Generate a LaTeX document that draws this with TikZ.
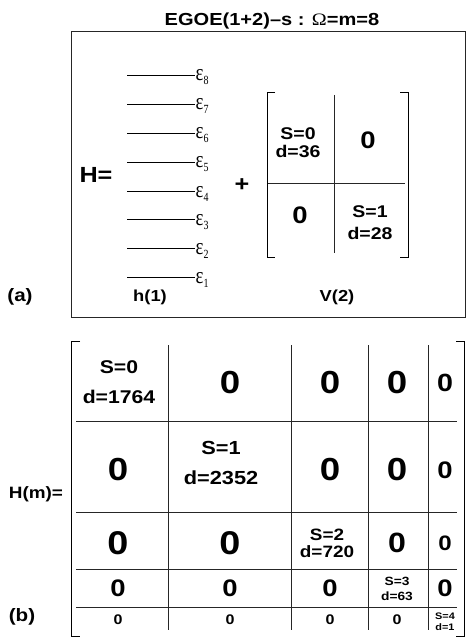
\documentclass[tikz,border=0pt]{standalone}
\usepackage{fontspec}
\setmainfont{Liberation Sans}
\newfontfamily\serif{Liberation Serif}
\newcommand\epslab[1]{ε\raisebox{-4bp}{\fontsize{12.5}{12}\selectfont #1}}

\begin{document}
\begin{tikzpicture}%
        [x=1bp, y=-1bp,
        lbl/.style 2 args={inner sep=0pt, xscale=1.15, align=center,
            font=\bfseries\fontsize{#1}{#2}\selectfont},
        zero/.style={lbl={#1}{#1}},
        eps/.style={anchor=base west, inner sep=0.5pt, yshift=-6bp, xscale=0.8,
            font=\serif\fontsize{23.5}{23.5}\selectfont},
        lev/.style={line width=0.8bp},
        grid/.style={line width=0.8bp, color=black!85},
        brk/.style={line width=0.8bp}]
    %
    \useasboundingbox (0,0) rectangle (467,639);
    %
    %% Title
    \node[lbl={17.5}{20}] (title) at (272,21)
        {EGOE(1+2)--s : {\serif\mdseries Ω}=m=8};
    %%
    %% Panel (a)
    %%
    \draw[grid] (71,31) rectangle (465,317);
    \node[lbl={18}{18}] (pa) at (20,297) {(a)};
    \node[lbl={22}{22}] (H) at (96,175) {H=};
    \node[lbl={22}{22}] (plus) at (242,185) {+};
    %% single particle levels
    \draw[lev] (127,75) -- (195,75) node[eps] (e8) {\epslab{8}};
    \draw[lev] (127,104) -- (195,104) node[eps] (e7) {\epslab{7}};
    \draw[lev] (127,133) -- (195,133) node[eps] (e6) {\epslab{6}};
    \draw[lev] (127,162) -- (195,162) node[eps] (e5) {\epslab{5}};
    \draw[lev] (127,191) -- (195,191) node[eps] (e4) {\epslab{4}};
    \draw[lev] (127,219) -- (195,219) node[eps] (e3) {\epslab{3}};
    \draw[lev] (127,248) -- (195,248) node[eps] (e2) {\epslab{2}};
    \draw[lev] (127,277) -- (195,277) node[eps] (e1) {\epslab{1}};
    \node[lbl={16}{16}] (h1) at (150,297) {h(1)};
    %% two-body matrix
    \draw[brk] (275,92) -- (267,92) -- (267,257) -- (275,257);
    \draw[brk] (400,92) -- (408,92) -- (408,257) -- (400,257);
    \draw[grid] (334,95) -- (334,253);
    \draw[grid] (268,183) -- (405,183);
    \node[lbl={17}{18}] (v00) at (298,143) {S=0\\d=36};
    \node[zero=24] (v01) at (368,140) {0};
    \node[zero=24] (v10) at (300,215) {0};
    \node[lbl={17}{22}] (v11) at (370,223) {S=1\\d=28};
    \node[lbl={16}{16}] (V2) at (337,297) {V(2)};
    %%
    %% Panel (b)
    %%
    \node[lbl={18}{18}] (pb) at (22,617) {(b)};
    \node[lbl={16.5}{16.5}] (Hm) at (36,494) {H(m)=};
    \draw[brk] (80,341) -- (71,341) -- (71,636) -- (80,636);
    \draw[brk] (456,341) -- (464,341) -- (464,636) -- (456,636);
    %% block borders
    \draw[grid] (168,345) -- (168,630);
    \draw[grid] (291,345) -- (291,630);
    \draw[grid] (368,345) -- (368,630);
    \draw[grid] (428,345) -- (428,630);
    \draw[grid] (76,421) -- (457,421);
    \draw[grid] (76,512) -- (457,512);
    \draw[grid] (76,569) -- (457,569);
    \draw[grid] (76,607) -- (457,607);
    %% row S=0
    \node[lbl={18.5}{30}] (b11) at (119,382) {S=0\\d=1764};
    \node[zero=32] (b12) at (230,383) {0};
    \node[zero=32] (b13) at (330,383) {0};
    \node[zero=32] (b14) at (397,383) {0};
    \node[zero=25] (b15) at (445,383) {0};
    %% row S=1
    \node[zero=32] (b21) at (118,470) {0};
    \node[lbl={19}{31}] (b22) at (221,463) {S=1\\d=2352};
    \node[zero=32] (b23) at (330,470) {0};
    \node[zero=32] (b24) at (397,470) {0};
    \node[zero=24] (b25) at (445,470) {0};
    %% row S=2
    \node[zero=33] (b31) at (118,543) {0};
    \node[zero=33] (b32) at (230,543) {0};
    \node[lbl={16.5}{17}] (b33) at (327,543) {S=2\\d=720};
    \node[zero=28] (b34) at (397,543) {0};
    \node[zero=21] (b35) at (445,543) {0};
    %% row S=3
    \node[zero=24] (b41) at (118,588) {0};
    \node[zero=24] (b42) at (230,588) {0};
    \node[zero=24] (b43) at (330,588) {0};
    \node[lbl={12}{15}] (b44) at (397,589) {S=3\\d=63};
    \node[zero=24] (b45) at (445,588) {0};
    %% row S=4
    \node[zero=14] (b51) at (118,620) {0};
    \node[zero=14] (b52) at (230,620) {0};
    \node[zero=14] (b53) at (330,620) {0};
    \node[zero=14] (b54) at (397,620) {0};
    \node[lbl={9.5}{11}] (b55) at (445,622) {S=4\\d=1};
    %%
\end{tikzpicture}
\end{document}
